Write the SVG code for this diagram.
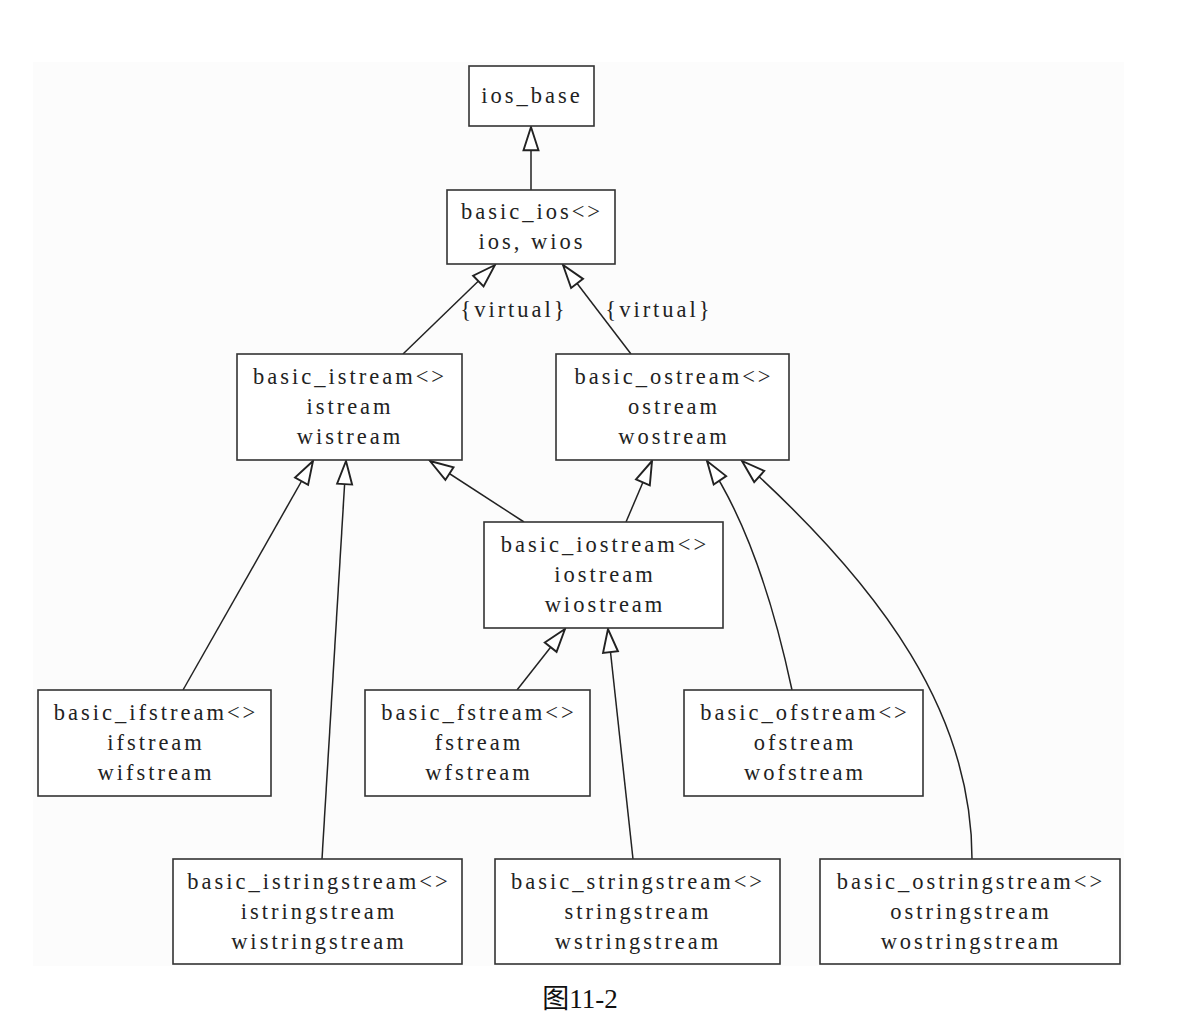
<svg xmlns="http://www.w3.org/2000/svg" width="1186" height="1026" viewBox="0 0 1186 1026">
<defs>
<style>
.box{fill:#ffffff;stroke:#333;stroke-width:1.6}
.t{font-family:"Liberation Serif","Times New Roman",serif;font-size:22.5px;letter-spacing:3px;fill:#222;text-anchor:middle}
.e{fill:none;stroke:#222;stroke-width:1.5;marker-end:url(#tri)}
.cap{font-family:"Liberation Serif","Noto Sans CJK SC",serif;font-size:27px;fill:#111;text-anchor:middle}
</style>
<marker id="tri" markerUnits="userSpaceOnUse" markerWidth="30" markerHeight="30" viewBox="-20 -8 22 16" refX="0" refY="0" orient="auto" overflow="visible">
<path d="M0,0 L-17,-5.5 L-17,5.5 Z" fill="#fff" stroke="#222" stroke-width="1.4" stroke-linejoin="miter"/>
</marker>
</defs>
<rect x="0" y="0" width="1186" height="1026" fill="#ffffff"/>
<rect x="33" y="62" width="1091" height="904" fill="#fcfcfc"/>
<g id="connectors">
<path class="e" d="M531,190 L531,127"/>
<path class="e" d="M403,354 L495,265"/>
<path class="e" d="M631,354 L563,265"/>
<path class="e" d="M183,690 L313,461"/>
<path class="e" d="M322,859 L346,461"/>
<path class="e" d="M524,522 L430,461"/>
<path class="e" d="M626,522 L652,461"/>
<path class="e" d="M517,690 L565,629"/>
<path class="e" d="M633,859 L608,629"/>
<path class="e" d="M792,690 Q760,540 707,461"/>
<path class="e" d="M972,859 C972,715 885,590 742,461"/>
<text class="t" x="514" y="317">{virtual}</text>
<text class="t" x="659" y="317">{virtual}</text>
</g>
<g id="ios_base">
<rect class="box" x="469" y="66" width="125" height="60"/>
<text class="t" x="532" y="103">ios_base</text>
</g>
<g id="basic_ios">
<rect class="box" x="447" y="190" width="168" height="74"/>
<text class="t" x="532" y="219">basic_ios&lt;&gt;</text>
<text class="t" x="532" y="249">ios, wios</text>
</g>
<g id="basic_istream">
<rect class="box" x="237" y="354" width="225" height="106"/>
<text class="t" x="350" y="384">basic_istream&lt;&gt;</text>
<text class="t" x="350" y="414">istream</text>
<text class="t" x="350" y="444">wistream</text>
</g>
<g id="basic_ostream">
<rect class="box" x="556" y="354" width="233" height="106"/>
<text class="t" x="674" y="384">basic_ostream&lt;&gt;</text>
<text class="t" x="674" y="414">ostream</text>
<text class="t" x="674" y="444">wostream</text>
</g>
<g id="basic_iostream">
<rect class="box" x="484" y="522" width="239" height="106"/>
<text class="t" x="605" y="552">basic_iostream&lt;&gt;</text>
<text class="t" x="605" y="582">iostream</text>
<text class="t" x="605" y="612">wiostream</text>
</g>
<g id="basic_ifstream">
<rect class="box" x="38" y="690" width="233" height="106"/>
<text class="t" x="156" y="720">basic_ifstream&lt;&gt;</text>
<text class="t" x="156" y="750">ifstream</text>
<text class="t" x="156" y="780">wifstream</text>
</g>
<g id="basic_fstream">
<rect class="box" x="365" y="690" width="225" height="106"/>
<text class="t" x="479" y="720">basic_fstream&lt;&gt;</text>
<text class="t" x="479" y="750">fstream</text>
<text class="t" x="479" y="780">wfstream</text>
</g>
<g id="basic_ofstream">
<rect class="box" x="684" y="690" width="239" height="106"/>
<text class="t" x="805" y="720">basic_ofstream&lt;&gt;</text>
<text class="t" x="805" y="750">ofstream</text>
<text class="t" x="805" y="780">wofstream</text>
</g>
<g id="basic_istringstream">
<rect class="box" x="173" y="859" width="289" height="105"/>
<text class="t" x="319" y="889">basic_istringstream&lt;&gt;</text>
<text class="t" x="319" y="919">istringstream</text>
<text class="t" x="319" y="949">wistringstream</text>
</g>
<g id="basic_stringstream">
<rect class="box" x="495" y="859" width="285" height="105"/>
<text class="t" x="638" y="889">basic_stringstream&lt;&gt;</text>
<text class="t" x="638" y="919">stringstream</text>
<text class="t" x="638" y="949">wstringstream</text>
</g>
<g id="basic_ostringstream">
<rect class="box" x="820" y="859" width="300" height="105"/>
<text class="t" x="971" y="889">basic_ostringstream&lt;&gt;</text>
<text class="t" x="971" y="919">ostringstream</text>
<text class="t" x="971" y="949">wostringstream</text>
</g>
<text class="cap" x="580" y="1008">图11-2</text>
</svg>
